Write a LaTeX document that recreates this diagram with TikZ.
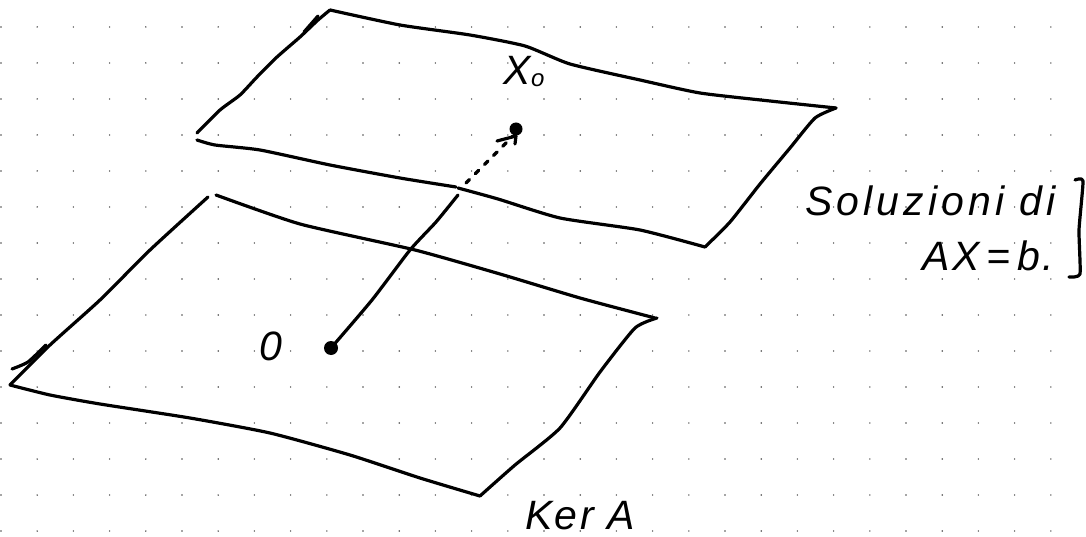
\documentclass[tikz,border=0pt]{standalone}
\usepackage{fontspec}
\setmainfont{Liberation Sans}
\newfontfamily\hand[ItalicFont={Liberation Sans Italic},LetterSpace=6]{Liberation Sans}
\newfontfamily\handwide[ItalicFont={Liberation Sans Italic},LetterSpace=10]{Liberation Sans}
\tikzset{
  ink/.style={line width=3.2pt,line cap=round,line join=round,black},
  hw/.style={inner sep=0pt,font=\fontsize{41}{44}\selectfont\hand\itshape},
  hwwide/.style={inner sep=0pt,font=\fontsize{41}{44}\selectfont\handwide\itshape},
}
\begin{document}
\begin{tikzpicture}[x=1pt,y=-1pt]
\useasboundingbox (0,0) rectangle (1086,537);
\fill[white] (0,0) rectangle (1086,537);
% dotted paper
\foreach \i in {0,...,30}{\foreach \j in {0,...,14}{
  \fill[black!70] ({1+36.2*\i},{27+36*\j}) circle (0.8pt);
}}
% upper plane
\draw[ink] plot[smooth,tension=0.35] coordinates {(197,133) (220,110) (240,95) (257,77) (277,57) (300,37) (318,20) (330,10)};
\draw[ink] (304,32) -- (318,16);
\draw[ink] plot[smooth,tension=0.35] coordinates {(330,10) (400,25) (470,35) (525,46) (570,64) (640,80) (700,93) (770,101) (836,108)};
\draw[ink] plot[smooth,tension=0.35] coordinates {(836,108) (815,118) (790,148) (760,184) (730,222) (705,247)};
\draw[ink] plot[smooth,tension=0.35] coordinates {(705,247) (640,230) (560,218) (498,199) (458,188)};
\draw[ink] plot[smooth,tension=0.35] coordinates {(456,187) (400,178) (330,165) (260,150) (215,145) (197,140)};
% lower plane
\draw[ink] plot[smooth,tension=0.35] coordinates {(216,195) (300,224) (415,250) (500,274) (580,298) (655,318)};
\draw[ink] plot[smooth,tension=0.35] coordinates {(657,318) (635,328) (600,372) (560,428) (515,465) (480,496)};
\draw[ink] plot[smooth,tension=0.35] coordinates {(480,496) (420,478) (350,455) (270,433) (190,418) (100,404) (50,395) (10,385)};
\draw[ink] plot[smooth,tension=0.35] coordinates {(10,385) (50,345) (100,300) (150,250) (208,197)};
\draw[ink] plot[smooth,tension=0.35] coordinates {(12,369) (28,362) (46,345)};
% vector
\node[circle,fill=black,inner sep=0pt,minimum size=14pt] (origin) at (331,348) {};
\node[circle,fill=black,inner sep=0pt,minimum size=13pt] (tip) at (516,129) {};
\coordinate (cross) at (458,195);
\coordinate (dashstart) at (466,183);
\coordinate (arrowend) at (513,136);
\draw[ink] plot[smooth,tension=0.35] coordinates {(origin) (372,300) (410,250) (436,222) (cross)};
\draw[ink,dash pattern=on 5pt off 8pt] (dashstart) -- (arrowend);
\draw[ink] (497,141) -- (516,136) -- (515,144);
% bracket
\draw[ink] plot[smooth,tension=0.3] coordinates {(1075,180) (1083,181) (1079,230) (1080,274) (1069,277)};
% labels
\node[hw] (x0) at (524,72) {X\raisebox{-2pt}{\fontsize{24}{26}\selectfont o}};
\node[hw] (zero) at (271,346) {0};
\node[hwwide,anchor=east] (sol) at (1056,201) {Soluzioni di};
\node[hw,anchor=east] (eq) at (1054,256) {AX\,=\,b.};
\node[hw] (ker) at (580,516) {Ker A};
\end{tikzpicture}
\end{document}
